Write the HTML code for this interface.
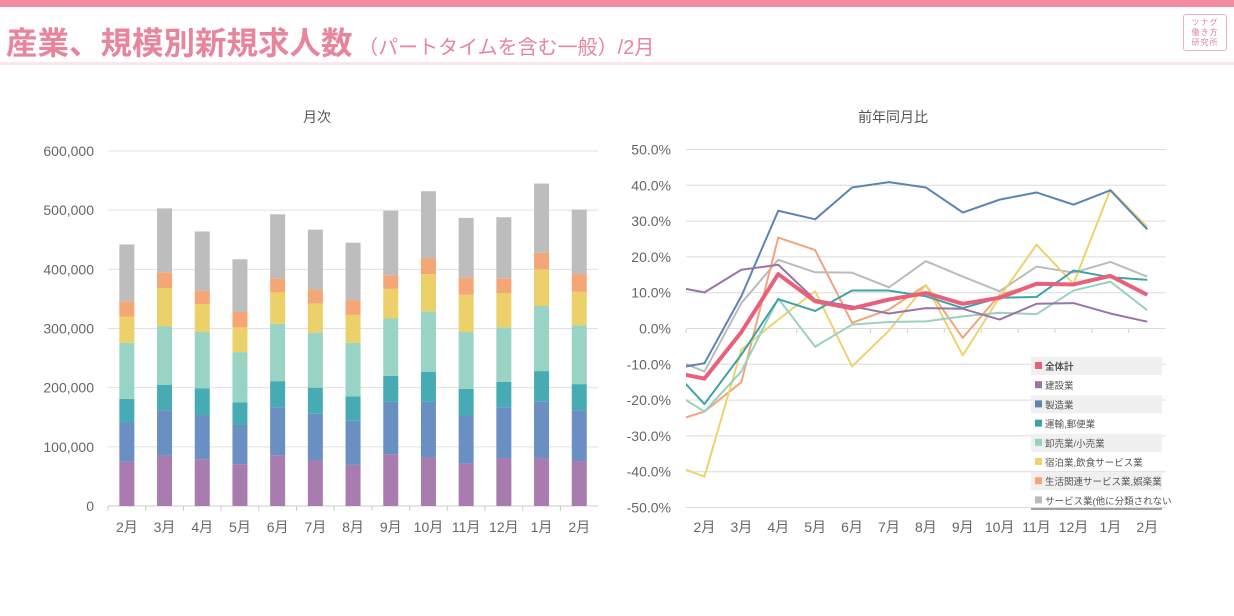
<!DOCTYPE html>
<html><head><meta charset="utf-8">
<style>
body{margin:0;width:1234px;height:616px;background:#fff;overflow:hidden;font-family:"Liberation Sans","Noto Sans CJK JP",sans-serif;position:relative}
.abs{position:absolute}
</style></head><body>
<div class="abs" style="left:0;top:0;width:1234px;height:7px;background:#f48ca0"></div>
<div class="abs" style="left:6px;top:18px;color:#e8859c;font-size:31.5px;font-weight:bold;white-space:nowrap">産業、規模別新規求人数<span style="font-size:20px;font-weight:normal"> （パートタイムを含む一般）/2月</span></div>
<div class="abs" style="left:0;top:62px;width:1234px;height:3px;background:#fbe6ea"></div>
<div class="abs" style="left:1183px;top:14px;width:44px;height:37px;border:1px solid #e9b4c0;border-radius:3px;color:#d98aa0;font-size:8px;line-height:10px;text-align:center;padding-top:3px;box-sizing:border-box;letter-spacing:1px">ツナグ<br>働き方<br>研究所</div>
<svg class="abs" style="left:0;top:0" width="1234" height="616">
<text x="317" y="122" text-anchor="middle" font-size="14" fill="#555">月次</text>
<text x="893" y="122" text-anchor="middle" font-size="14" fill="#555">前年同月比</text>
<g id="left"></g><g id="right"></g>
</svg>
<script>
const months=["2月","3月","4月","5月","6月","7月","8月","9月","10月","11月","12月","1月","2月"];
const seriesNames=["建設業","製造業","運輸,郵便業","卸売業,小売業","宿泊業,飲食サービス業","生活関連サービス業,娯楽業","サービス業(他に分類されないもの)"];
const barColors=["#a87cae","#6a8fc2","#46abb2","#98d3c3","#ecd16a","#f4a676","#bdbdbd"];
// segment values in thousands
const s0=[74.6,84.7,79,70.6,86,77,69.5,87.6,82,72,81,81,76];
const s1=[67.4,77.3,74,66.4,81,79,74.5,88.4,94,81,86,96,86];
const s2=[39,43,46,38,44,44,41,44,51,45,43,51,44];
const s3=[95,99,95,85,97,93,91,97,102,96,92,110,99];
const s4=[44,64,47,42,53,49,47,50,63,63,58,62,57];
const s5=[26,27,23,26,24,24,25,23,27,29,25,28,30];
const s6=[96,108,100,89,108,101,97,109,113,101,103,117,109];
const leftTicks=[0,100000,200000,300000,400000,500000,600000];
const tickLabels=["0","100,000","200,000","300,000","400,000","500,000","600,000"];
const NS="http://www.w3.org/2000/svg";
function mk(tag,attrs,parent,txt){const e=document.createElementNS(NS,tag);for(const k in attrs)e.setAttribute(k,attrs[k]);if(txt!==undefined)e.textContent=txt;parent.appendChild(e);return e;}
const L=document.getElementById('left');
const ly=v=>506-v/600000*355;
const lx=i=>108+18.85+37.7*i;
leftTicks.forEach((t,k)=>{
 const g=mk('line',{x1:108,x2:598,y1:ly(t),y2:ly(t),stroke:k==0?'#ccc':'#e0e0e0','stroke-width':1},L);
 
 
 const tx=mk('text',{x:94,y:ly(t)+5,'text-anchor':'end','font-size':14,fill:'#666'},L,tickLabels[k]);
 
 
});
const segs=[s0,s1,s2,s3,s4,s5,s6];
months.forEach((m,i)=>{
 let acc=0;
 segs.forEach((s,j)=>{
  const v=s[i]*1000;
  const r=mk('rect',{x:lx(i)-7.5,width:15,y:ly(acc+v),height:ly(acc)-ly(acc+v),fill:barColors[j]},L);
  
  
  acc+=v;
 });
 const t=mk('text',{x:lx(i),y:532,'text-anchor':'middle','font-size':14,fill:'#666'},L,m);
 
 
 const tk=mk('line',{x1:108+37.7*i,x2:108+37.7*i,y1:506,y2:511,stroke:'#ccc'},L);
 
 
});
// right chart (% values); first value is previous month (clipped)
const lineNames=["全体計","建設業","製造業","運輸,郵便業","卸売業/小売業","宿泊業,飲食サービス業","生活関連サービス業,娯楽業","サービス業(他に分類されない"];
const lineColors=["#e8607a","#9a74a8","#5a85b4","#3ea3a8","#97d2c0","#ecd36e","#f2a57a","#bbbbbb"];
const total=[-11.9,-14,-1,15.2,7.6,5.6,8.1,9.9,6.9,8.6,12.5,12.3,14.7,9.4];
const constr=[12,10.1,16.4,17.8,8,6.2,4.2,5.7,5.5,2.5,6.9,7.1,4.2,1.9];
const manuf=[-11.5,-9.7,9,32.9,30.5,39.4,40.9,39.4,32.4,36,38,34.6,38.6,27.7];
const trans=[-10,-21.1,-7.3,8.2,4.9,10.6,10.6,9,5.7,8.6,8.8,16.2,14.3,13.6];
const retail=[-16.8,-23.2,-12,8.4,-5.1,1.1,1.8,2,3.4,4.4,4,10.6,13.1,5.1];
const hotel=[-37.5,-41.4,-5.9,2.5,10.4,-10.6,-0.6,12.2,-7.5,8.8,23.4,12.5,38.8,28.4];
const living=[-26.5,-23.2,-15,25.4,21.9,1.6,5.3,12.1,-2.6,9.4,12.4,12.2,14.6,9.4];
const service=[-7.9,-12,7.1,19.2,15.7,15.6,11.5,18.8,14.5,10.4,17.3,15.6,18.6,14.5];
const rightTicks=[-50,-40,-30,-20,-10,0,10,20,30,40,50];
const R=document.getElementById('right');
const ry=v=>328.5-v*3.58;
const RX0=686,BW=36.9;
const rx=i=>RX0+BW/2+BW*i;
mk('clipPath',{id:'rc'},R);
mk('rect',{x:RX0,y:140,width:BW*13,height:380},document.getElementById('rc'));
rightTicks.forEach(t=>{
 const g=mk('line',{x1:RX0,x2:RX0+BW*13,y1:ry(t),y2:ry(t),stroke:'#dcdcdc','stroke-width':1},R);
 
 
 const tx=mk('text',{x:671,y:ry(t)+5,'text-anchor':'end','font-size':14,fill:'#666'},R,t.toFixed(1)+'%');
 
 
});
months.forEach((m,i)=>{
 const t=mk('text',{x:rx(i),y:532,'text-anchor':'middle','font-size':14,fill:'#666'},R,m);
 
 
 const tk=mk('line',{x1:RX0+BW*i,x2:RX0+BW*i,y1:329,y2:333,stroke:'#ccc'},R);
 
 
});
const lines=[service,living,hotel,retail,trans,manuf,constr,total];
const lcol=[7,6,5,4,3,2,1,0];
lines.forEach((arr,k)=>{
 const c=lcol[k];
 const pts=arr.map((v,i)=>rx(i-1)+','+ry(v)).join(' ');
 const p=mk('polyline',{points:pts,fill:'none',stroke:lineColors[c],'stroke-width':c==0?4:2,'stroke-linejoin':'round','clip-path':'url(#rc)'},R);
 
 
});
// legend
lineNames.forEach((n,i)=>{
 const y=357+19.2*i;
 if(i%2==0){const b=mk('rect',{x:1031,y:y,width:131,height:18,fill:'#f0f0f0'},R);}
 const sw=mk('rect',{x:1035,y:y+5,width:7,height:7,fill:lineColors[i]},R);
 
 
 const t=mk('text',{x:1045,y:y+13,'font-size':9.5,fill:'#555','font-weight':i==0?'bold':'normal'},R,n);
 
 
});
const bl=mk('line',{x1:1031,x2:1162,y1:509,y2:509,stroke:'#444','stroke-width':1},R);


</script>
</body></html>
